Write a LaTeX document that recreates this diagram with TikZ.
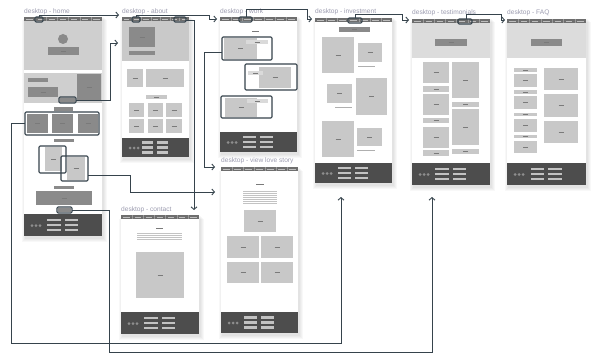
\documentclass[tikz,border=0pt]{standalone}
\usepackage{fontspec}
\setmainfont{Liberation Sans}
\usetikzlibrary{arrows.meta}
\definecolor{navc}{HTML}{6E6E6E}
\definecolor{navsep}{HTML}{9A9A9A}
\definecolor{navtxt}{HTML}{BDBDBD}
\definecolor{heroc}{HTML}{CFCFCF}
\definecolor{heroc2}{HTML}{C9C9C9}
\definecolor{heroc3}{HTML}{DCDCDC}
\definecolor{darkc}{HTML}{8A8A8A}
\definecolor{boxc}{HTML}{C8C8C8}
\definecolor{lblc}{HTML}{DADADA}
\definecolor{footc}{HTML}{4D4D4D}
\definecolor{btnc}{HTML}{C2C2C2}
\definecolor{dotc}{HTML}{8E8E8E}
\definecolor{hlc}{HTML}{36434C}
\definecolor{titlec}{HTML}{9C9CB0}
\definecolor{tinyc}{HTML}{7A7A7A}
\newcommand\wfpage[4]{%
  \foreach \s in {1,2,3,4}{\fill[black,opacity=0.028] ({#1-\s+1.5},{#2+\s-0.5}) rectangle ({#3+\s+0.5},{#4+\s+1.5});}
  \fill[white] (#1,#2) rectangle (#3,#4);}
\newcommand\wfnav[3]{%
  \fill[navc] (#1,#3) rectangle (#2,{#3+4});
  \foreach \i in {1,...,6}{\draw[navsep,line width=0.3pt] ({#1+(#2-#1)*\i/7},#3) -- ({#1+(#2-#1)*\i/7},{#3+4});}
  \foreach \i in {0,...,6}{\draw[navtxt,line width=0.6pt] ({#1+(#2-#1)*(\i+0.22)/7},{#3+2}) -- ({#1+(#2-#1)*(\i+0.78)/7},{#3+2});}}
\newcommand\wffoot[4]{%
  \fill[footc] (#1,#2) rectangle (#3,#4);
  \foreach \d in {8,12,16}{\fill[dotc] ({#1+\d},{(#2+#4)/2+0.5}) circle (1.5);}
  \foreach \r in {-5,0,5}{%
    \fill[btnc] ({#1+0.3*(#3-#1)},{(#2+#4)/2+\r-1.4}) rectangle ({#1+0.47*(#3-#1)},{(#2+#4)/2+\r+1.4});
    \fill[btnc] ({#1+0.52*(#3-#1)},{(#2+#4)/2+\r-1.4}) rectangle ({#1+0.69*(#3-#1)},{(#2+#4)/2+\r+1.4});}}
\newcommand\wfbox[5]{%
  \fill[#1] (#2,#3) rectangle (#4,#5);
  \draw[tinyc,line width=0.25pt] ({(#2+#4)/2-2.5},{(#3+#5)/2}) -- ({(#2+#4)/2+2.5},{(#3+#5)/2});}
\newcommand\wftext[4]{% x1 x2 y1 nlines
  \foreach \k in {1,...,#4}{\draw[tinyc!45,line width=0.3pt] (#1,{#3+(\k-1)*2}) -- (#2,{#3+(\k-1)*2});}}
\begin{document}
\begin{tikzpicture}[x=1pt,y=-1pt,
  hl/.style={draw=hlc,line width=1.1pt,rounded corners=1.2pt},
  conn/.style={draw=hlc,line width=0.9pt,-{Straight Barb[length=2.6pt,width=6pt]}},
  ttl/.style={anchor=west,inner sep=0pt,text=titlec,font=\fontsize{6.6}{7}\selectfont}]
\useasboundingbox (0,0) rectangle (600,361);
\fill[white] (0,0) rectangle (600,361);
% ---------- titles
\node[ttl] (tHome) at (24,12) {desktop - home};
\node[ttl] (tAbout) at (122,12) {desktop - about};
\node[ttl] (tWork) at (220,12) {desktop - work};
\node[ttl] (tInv) at (315,12) {desktop - investment};
\node[ttl] (tTest) at (412,12.5) {desktop - testimonials};
\node[ttl] (tFaq) at (507,12.5) {desktop - FAQ};
\node[ttl] (tLove) at (221,161) {desktop - view love story};
\node[ttl] (tContact) at (121,209.5) {desktop - contact};
% ---------- home
\wfpage{24}{17}{102}{236}
\fill[heroc] (24,21) rectangle (102,70);
\fill[darkc] (63,39) circle (5);
\wfbox{darkc}{48}{47}{79}{55}
\fill[heroc] (24,73) rectangle (102,103);
\fill[darkc] (28,78) rectangle (48,82);
\wfbox{darkc}{28}{87}{58}{97}
\wfbox{darkc}{77}{74}{101}{101}
\fill[darkc] (60,98) rectangle (75,102);
\fill[darkc] (54,107) rectangle (73,111);
\wfbox{darkc}{27}{114}{48}{133}
\wfbox{darkc}{52}{114}{73}{133}
\wfbox{darkc}{78}{114}{98}{133}
\fill[darkc] (54,139) rectangle (74,142);
\wfbox{boxc}{45}{147}{62}{171}
\wfbox{boxc}{67}{157}{85}{180}
\fill[darkc] (54,186) rectangle (74,189);
\wfbox{darkc}{36}{191}{92}{205}
\fill[darkc] (58,208) rectangle (71,212);
\wfnav{24}{102}{17}
\wffoot{24}{214}{102}{236}
\draw[hl] (35,17) rectangle (43,22);
\draw[hl] (59,97) rectangle (76,103);
\draw[hl] (25,112) rectangle (99,135);
\draw[hl] (39,146) rectangle (66,173);
\draw[hl] (61,156) rectangle (88,181);
\draw[hl] (57,207) rectangle (72,213);
% ---------- about
\wfpage{122}{17}{189}{157}
\fill[heroc2] (122,21) rectangle (189,61);
\wfbox{darkc}{129}{27}{155}{47}
\fill[darkc] (129,51) rectangle (155,55);
\wfbox{boxc}{127}{69}{143}{87}
\wfbox{boxc}{146}{69}{184}{87}
\wfbox{boxc}{146}{95}{167}{99}
\wfbox{boxc}{129}{103}{144}{117}
\wfbox{boxc}{148}{103}{163}{117}
\wfbox{boxc}{166}{103}{182}{117}
\wfbox{boxc}{129}{119}{144}{133}
\wfbox{boxc}{148}{119}{163}{133}
\wfbox{boxc}{166}{119}{182}{133}
\wfnav{122}{189}{17}
\wffoot{122}{138}{189}{157}
\draw[hl] (132,17) rectangle (140,22);
\draw[hl] (174,17) rectangle (186,22);
% ---------- work
\wfpage{220}{17}{297}{152}
\draw[tinyc,line width=0.3pt] (252,31) -- (259,31);
\wfbox{boxc}{224}{38}{257}{59}
\wfbox{lblc}{246}{40}{268}{44}
\wfbox{boxc}{259}{67}{291}{88}
\wfbox{lblc}{248}{71}{263}{75}
\wfbox{boxc}{225}{98}{257}{117}
\wfbox{lblc}{247}{99}{268}{103}
\wfnav{220}{297}{17}
\wffoot{220}{132}{297}{152}
\draw[hl] (239,17) rectangle (252,22);
\draw[hl] (222,37) rectangle (272,60);
\draw[hl] (245,64) rectangle (297,90);
\draw[hl] (221,96) rectangle (272,118);
% ---------- view love story
\wfpage{221}{167}{298}{333}
\draw[tinyc,line width=0.3pt] (256,184) -- (264,184);
\wftext{243}{277}{191}{7}
\wfbox{boxc}{244}{210}{276}{232}
\wfbox{boxc}{227}{236}{259}{258}
\wfbox{boxc}{261}{236}{293}{258}
\wfbox{boxc}{227}{262}{259}{283}
\wfbox{boxc}{261}{262}{293}{283}
\wfnav{221}{298}{167}
\wffoot{221}{312}{298}{333}
% ---------- contact
\wfpage{121}{215}{199}{334}
\draw[tinyc,line width=0.3pt] (156,228) -- (163,228);
\wftext{137}{182}{233}{4}
\wfbox{boxc}{136}{252}{184}{298}
\wfnav{121}{199}{215}
\wffoot{121}{312}{199}{334}
% ---------- investment
\wfpage{315}{18}{392}{183}
\wfbox{darkc}{339}{27}{370}{32}
\wfbox{boxc}{322}{37}{354}{73}
\wfbox{boxc}{358}{43}{382}{62}
\draw[tinyc!60,line width=0.35pt] (358,66) -- (375,66);
\wfbox{boxc}{327}{84}{352}{103}
\wfbox{boxc}{356}{78}{387}{115}
\draw[tinyc!60,line width=0.35pt] (335,107) -- (352,107);
\wfbox{boxc}{322}{121}{354}{157}
\wfbox{boxc}{357}{128}{382}{146}
\draw[tinyc!60,line width=0.35pt] (357,150) -- (375,150);
\wfnav{315}{392}{18}
\wffoot{315}{163}{392}{183}
\draw[hl] (348,18) rectangle (362,23);
% ---------- testimonials
\wfpage{412}{19}{490}{185}
\fill[heroc3] (412,23) rectangle (490,58);
\wfbox{darkc}{435}{39}{467}{46}
\wfbox{boxc}{423}{62}{449}{83}
\wfbox{boxc}{423}{86}{449}{92}
\wfbox{boxc}{423}{94}{449}{115}
\wfbox{boxc}{423}{118}{449}{123}
\wfbox{boxc}{423}{127}{449}{148}
\wfbox{boxc}{423}{150}{449}{156}
\wfbox{boxc}{452}{62}{479}{98}
\wfbox{boxc}{452}{102}{479}{107}
\wfbox{boxc}{452}{109}{479}{145}
\wfbox{boxc}{452}{149}{479}{154}
\wfnav{412}{490}{19}
\wffoot{412}{163}{490}{185}
\draw[hl] (458,19) rectangle (472,24);
% ---------- FAQ
\wfpage{507}{19}{586}{185}
\fill[heroc3] (507,23) rectangle (586,58);
\wfbox{darkc}{531}{39}{562}{46}
\wfbox{boxc}{514}{68}{537}{72}
\wfbox{boxc}{514}{74}{537}{87}
\wfbox{boxc}{514}{90}{537}{94}
\wfbox{boxc}{514}{96}{537}{109}
\wfbox{boxc}{514}{113}{537}{116}
\wfbox{boxc}{514}{119}{537}{132}
\wfbox{boxc}{514}{135}{537}{138}
\wfbox{boxc}{514}{141}{537}{153}
\wfbox{boxc}{544}{68}{578}{90}
\wfbox{boxc}{544}{94}{578}{117}
\wfbox{boxc}{544}{121}{578}{143}
\wfnav{507}{586}{19}
\wffoot{507}{163}{586}{185}
% ---------- connector anchors
\coordinate (hAboutTab) at (39,17);
\coordinate (hBtn) at (76,100);
\coordinate (hBoxes) at (25,123);
\coordinate (hLight) at (88,175);
\coordinate (hBottom) at (72,210);
\coordinate (aWorkTab) at (136,17);
\coordinate (aContactTab) at (186,20);
\coordinate (wInvTab) at (246,17);
\coordinate (wStory) at (222,52);
\coordinate (iTestTab) at (355,18);
\coordinate (tFaqTab) at (466,19);
\coordinate (aboutIn) at (119,15);
\coordinate (aboutIn2) at (118,43);
\coordinate (workIn) at (217,19);
\coordinate (invIn) at (312,19);
\coordinate (testIn) at (409,20);
\coordinate (faqIn) at (505,20);
\coordinate (contactIn) at (194,210);
\coordinate (loveIn1) at (215,167);
\coordinate (loveIn2) at (215,192);
\coordinate (invUp) at (341,197);
\coordinate (testUp) at (432,197);
% ---------- connectors
\draw[conn] (hAboutTab) |- (aboutIn);
\draw[conn] (hBtn) -- (110,100) |- (aboutIn2);
\draw[conn] (aWorkTab) |- (209,15) |- (workIn);
\draw[conn] (wInvTab) |- (307,9) |- (invIn);
\draw[conn] (iTestTab) |- (402,14) |- (testIn);
\draw[conn] (tFaqTab) |- (501,14) |- (faqIn);
\draw[conn] (aContactTab) -| (contactIn);
\draw[conn] (wStory) -- (204,52) |- (loveIn1);
\draw[conn] (hLight) -- (130,175) |- (loveIn2);
\draw[conn] (hBoxes) -- (11,123) |- (341,343) -- (invUp);
\draw[conn] (hBottom) -- (109,210) |- (432,352) -- (testUp);
\end{tikzpicture}
\end{document}
